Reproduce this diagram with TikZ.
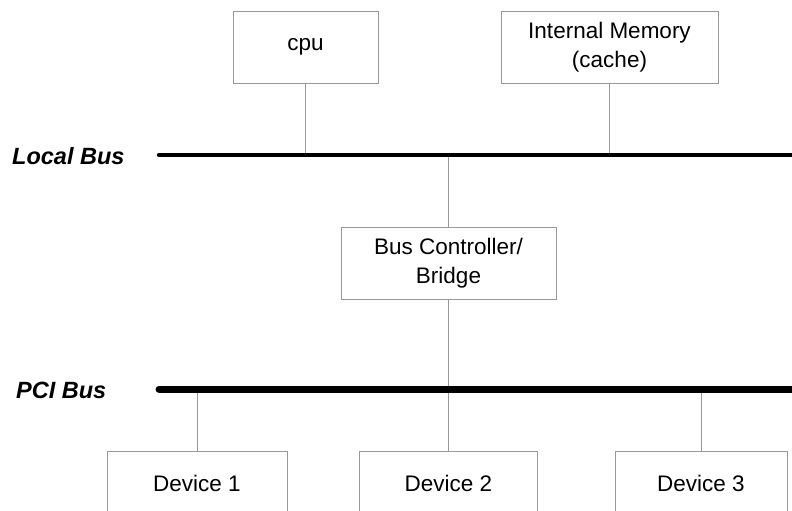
\documentclass[tikz,border=0pt]{standalone}
\usepackage{fontspec}
\setmainfont{Liberation Sans}
\begin{document}
\begin{tikzpicture}[x=1pt,y=-1pt,
  box/.style={draw=black!40, line width=0.8pt, fill=white, align=center, inner sep=0pt, font=\fontsize{22.5}{29}\selectfont},
  link/.style={draw=black!40, line width=0.8pt},
  bus/.style={draw=black, line cap=round},
  buslabel/.style={font=\fontsize{23.5}{26}\selectfont\bfseries\itshape, anchor=west, inner sep=0pt}]
\useasboundingbox (0,0) rectangle (792,511);
\clip (0,0) rectangle (792,511);
% boxes
\node[box, minimum width=145, minimum height=72] (cpu) at (305.5,47) {cpu};
\node[box, minimum width=217, minimum height=72] (mem) at (609.5,47) {Internal Memory\\(cache)};
\node[box, minimum width=215, minimum height=72] (ctl) at (448.5,263) {Bus Controller/\\Bridge};
\node[box, minimum width=180, minimum height=64] (d1) at (197,483) {Device 1};
\node[box, minimum width=178, minimum height=64] (d2) at (448.5,483) {Device 2};
\node[box, minimum width=172, minimum height=64] (d3) at (701,483) {Device 3};
% bus endpoints
\coordinate (lbA) at (159,155);
\coordinate (lbB) at (795,155);
\coordinate (pbA) at (159,389);
\coordinate (pbB) at (795,389);
% labels
\node[buslabel] (lbl) at (12,156) {Local Bus};
\node[buslabel] (pbl) at (16,390) {PCI Bus};
% links
\draw[link] (cpu.south) -- (cpu.south |- lbA);
\draw[link] (mem.south) -- (mem.south |- lbA);
\draw[link] (ctl.north) -- (ctl.north |- lbA);
\draw[link] (ctl.south) -- (d2.north);
\draw[link] (d1.north) -- (d1.north |- pbA);
\draw[link] (d3.north) -- (d3.north |- pbA);
% buses
\draw[bus, line width=4.5pt] (lbA) -- (lbB);
\draw[bus, line width=7pt] (pbA) -- (pbB);
\end{tikzpicture}
\end{document}
